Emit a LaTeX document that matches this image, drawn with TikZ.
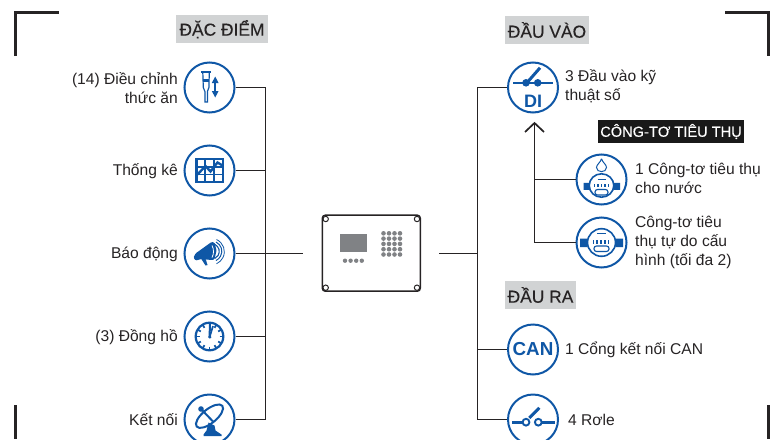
\documentclass[tikz,border=0pt]{standalone}
\usepackage{fontspec}
\setmainfont{Liberation Sans}
\newfontfamily\medfont[FakeBold=0.25]{Liberation Sans}
\definecolor{iblue}{HTML}{0F57A6}
\definecolor{ink}{HTML}{262324}
\definecolor{hdr}{HTML}{D1D3D4}
\definecolor{devg}{HTML}{808285}
\tikzset{
  ring/.style={circle,draw=iblue,line width=2pt,minimum size=50pt,inner sep=0pt,fill=white},
  lab/.style={text=ink,font=\fontsize{15.6}{19}\selectfont,inner sep=0pt},
  labl/.style={lab,anchor=east,align=right},
  labr/.style={lab,anchor=west,align=left},
  hd/.style={fill=hdr,text=ink,font=\medfont\fontsize{17.4}{19}\selectfont,inner sep=0pt,minimum height=28.5pt},
  wire/.style={draw=ink,line width=1pt},
  crop/.style={draw=ink,line width=3pt},
  ic/.style={draw=iblue,line width=1.6pt},
  icf/.style={fill=iblue,draw=none}
}
\begin{document}
\begin{tikzpicture}[x=1pt,y=-1pt]
\useasboundingbox (0,0) rectangle (776,439);
% crop marks
\draw[crop] (15.5,56) -- (15.5,12.5) -- (59,12.5);
\draw[crop] (725,12.5) -- (768.7,12.5) -- (768.7,56);
\draw[crop] (15.5,405) -- (15.5,439);
\draw[crop] (768.7,405) -- (768.7,439);
% coordinates
\coordinate (lbus) at (265.5,253.5);
\coordinate (rbus) at (477.5,253.5);
\coordinate (mbus) at (534.5,179.5);
% rings
\node[ring] (a1) at (209.5,87.5) {};
\node[ring] (a2) at (209.5,170.5) {};
\node[ring] (a3) at (209.5,253.5) {};
\node[ring] (a4) at (209.5,336.5) {};
\node[ring] (a5) at (209.5,419.5) {};
\node[ring] (b1) at (533,87.5) {};
\node[ring] (b2) at (533,349.5) {};
\node[ring] (b3) at (533,419.5) {};
\node[ring] (m1) at (601.5,179.5) {};
\node[ring] (m2) at (601.5,242.5) {};
% device
\node[draw=ink,line width=1.5pt,rounded corners=3pt,minimum width=98pt,minimum height=76pt,inner sep=0pt] (dev) at (371.3,253.2) {};
\foreach \cx/\cy in {325.7/219,417/219,325.7/287.7,417/287.7}
  \draw[ink,line width=1pt,fill=white] (\cx,\cy) circle (2.7);
\fill[devg] (340,234) rectangle (366.7,251.7);
\foreach \i in {0,...,3} \foreach \j in {0,...,4}
  \fill[devg] ({383.5+\i*5.5},{233.3+\j*5.3}) circle (2.3);
\foreach \i in {0,...,3}
  \fill[devg] ({345+\i*5.6},260.7) circle (2.2);
% wires
\draw[wire] (a1.east) -| (a5.east -| lbus) -- (a5.east);
\draw[wire] (a2.east) -- (a2.east -| lbus);
\draw[wire] (a3.east) -- (a3.east -| lbus);
\draw[wire] (a4.east) -- (a4.east -| lbus);
\draw[wire] (lbus) -- (303,253.5);
\draw[wire] (439,253.5) -- (rbus);
\draw[wire] (b1.west) -| (b3.west -| rbus) -- (b3.west);
\draw[wire] (b2.west) -- (b2.west -| rbus);
\draw[wire] (m1.west) -- (mbus);
\draw[wire] (m2.west) -| (mbus);
\draw[wire] (mbus) -- (534.5,124);
\draw[wire,line width=1.7pt] (525,132) -- (534.5,123) -- (544,132);
% headers
\node[hd,minimum width=92pt] (h1) at (222,29.2) {ĐẶC ĐIỂM};
\node[hd,minimum width=84pt] (h2) at (547,30) {ĐẦU VÀO};
\node[hd,minimum width=71pt] (h3) at (540.5,295) {ĐẦU RA};
\node[fill=black!90,text=white,font=\medfont\fontsize{14.6}{16}\selectfont,inner sep=0pt,minimum width=146pt,minimum height=23pt] (h4) at (671,131.5) {CÔNG-TƠ TIÊU THỤ};
% labels
\node[labl] (la1) at (178,88) {(14) Điều chỉnh\\thức ăn};
\node[labl] (la2) at (178,171.5) {Thống kê};
\node[labl] (la3) at (178,254.5) {Báo động};
\node[labl] (la4) at (178,337.5) {(3) Đồng hồ};
\node[labl] (la5) at (178,419.5) {Kết nối};
\node[labr] (lb1) at (565,86.5) {3 Đầu vào kỹ\\thuật số};
\node[labr] (lm1) at (635,178.5) {1 Công-tơ tiêu thụ\\cho nước};
\node[labr] (lm2) at (635,242) {Công-tơ tiêu\\thụ tự do cấu\\hình (tối đa 2)};
\node[labr] (lb2) at (565,350) {1 Cổng kết nối CAN};
\node[labr] (lb3) at (568,419.5) {4 Rơle};
% icon: DI
\begin{scope}[shift={(b1.center)}]
\draw[ic,line width=2.6pt] (-20,-4.7) -- (20,-4.7);
\fill[iblue] (-7,-4.7) circle (3.8) (4.7,-4.7) circle (3.8);
\draw[ic,line width=3pt] (-4.7,-6.3) -- (7,-19.7);
\node[text=iblue,font=\bfseries\fontsize{18}{18}\selectfont,inner sep=0pt] (di) at (0,13.5) {DI};
\end{scope}
% icon: CAN
\node[text=iblue,font=\bfseries\fontsize{18.8}{20}\selectfont,inner sep=0pt] (can) at (b2.center) {CAN};
% icon: relay
\begin{scope}[shift={(b3.center)}]
\draw[ic,line width=2.6pt] (-21,2.7) -- (-10,2.7) (9,2.7) -- (22,2.7);
\draw[ic,line width=1.9pt] (-7,2.7) circle (3.4) (5.3,2.7) circle (3.4);
\draw[ic,line width=3pt] (-3.7,-1.5) -- (6.3,-11.7);
\end{scope}
% icon: feed
\begin{scope}[shift={(a1.center)}]
\draw[ic,line width=1.9pt] (-8.5,-15.5) -- (1.5,-15.5);
\draw[ic,line width=1.2pt] (-6.7,-15) -- (-6.2,0) -- (-4.6,4) -- (-4.6,14.5) -- (-2.1,14.5) -- (-2.1,4) -- (-0.6,0) -- (-0.2,-15);
\fill[iblue] (-6.6,-8.5) rectangle (-0.4,-5.5);
\fill[iblue] (5.7,-11) -- (2.3,-4.5) -- (9.1,-4.5) -- cycle (5.7,10) -- (2.3,3.5) -- (9.1,3.5) -- cycle;
\draw[ic,line width=1.5pt] (5.7,-6) -- (5.7,5);
\end{scope}
% icon: stats
\begin{scope}[shift={(a2.center)}]
\draw[ic,line width=2.2pt] (-13,-11.3) rectangle (13.7,11.7);
\draw[ic,line width=1.7pt] (-13,-3.6) -- (13.7,-3.6) (-13,4) -- (13.7,4) (-4.2,-11.3) -- (-4.2,11.7) (4.7,-11.3) -- (4.7,11.7);
\draw[ic,line width=2.4pt] (-12,4) -- (-4,-4.5) -- (1,1) -- (8,-8) -- (13,-5);
\end{scope}
% icon: horn
\begin{scope}[shift={(a3.center)}]
\fill[iblue,rounded corners=1pt] (-16,4) -- (-14,0) -- (2,-11.5) -- (5,-11) -- (7,-3) -- (5,6) -- (2,6.5) -- (-8,5.5) -- (-14,7) -- cycle;
\fill[iblue] (-8.5,5) -- (-4,5) -- (-2,11.5) -- (-4,12) -- cycle;
\draw[white,line width=0.8pt] (2.5,-8) .. controls (4.5,-4) and (4.5,0) .. (2.5,4);
\draw[iblue,line width=1.1pt] (5.5,-9) arc (-60:60:8.5 and 8);
\draw[iblue,line width=1pt] (6.5,-11.5) arc (-62:62:11 and 10.5);
\draw[iblue,line width=0.8pt] (7,-14) arc (-64:64:14 and 13.5);
\end{scope}
% icon: clock
\begin{scope}[shift={(a4.center)}]
\draw[ic,line width=2.2pt] (0,0) circle (13.8);
\foreach \a in {0,30,...,330}
  \draw[iblue,line width=1.7pt] (\a:10) -- (\a:13.5);
\draw[ic,line width=2pt] (0,1) -- (0.5,-12.5);
\draw[ic,line width=1.7pt] (0,1) -- (3.5,-10.5);
\fill[iblue] (0.3,0.5) circle (1.7);
\end{scope}
% icon: dish
\begin{scope}[shift={(a5.center)}]
\draw[ic,line width=2pt,rotate around={39:(0,-3.3)}] (0,-3.3) ellipse (16.5 and 7);
\draw[ic,line width=2pt] (-8,-10) -- (3.5,2);
\fill[iblue] (-8.5,-10.5) circle (2.8);
\fill[iblue] (-1,3) -- (5,6) -- (6,11) -- (12,15) -- (12,16.5) -- (-6,16.5) -- (-6,15) -- (-3,11) -- cycle;
\end{scope}
% icon: meters
\begin{scope}[shift={(m1.center)}]
\fill[iblue] (-18,3.3) rectangle (-11.5,10.3) (12,3.3) rectangle (18.5,10.3);
\draw[ic,fill=white] (0,6) ellipse (12.3 and 11.7);
\draw[iblue,line width=1pt] (-4,0) -- (4,0);
\foreach \x in {-8,-4.5,-1,2.5,6} \fill[iblue] (\x,4) rectangle +(1.5,3.5);
\draw[ic,line width=1.1pt,rounded corners=2.5pt] (-6.5,10) rectangle (6.5,15.5);
\draw[ic,line width=1pt] (0,-20.7) .. controls (-1,-17) and (-5,-15) .. (-5,-12) .. controls (-5,-6.5) and (5,-6.5) .. (5,-12) .. controls (5,-15) and (1,-17) .. (0,-20.7);
\end{scope}
\begin{scope}[shift={(m2.center)}]
\fill[iblue] (-21.5,-4) rectangle (-14,4.7) (14,-4) rectangle (21.5,4.7);
\draw[ic,fill=white] (0,0) ellipse (14 and 13.8);
\draw[iblue,line width=1pt] (-4.5,-9) -- (4.5,-9);
\foreach \x in {-9,-5.2,-1.4,2.4,6.2} \fill[iblue] (\x,-3) rectangle +(1.6,4);
\draw[ic,line width=1.1pt,rounded corners=2.5pt] (-7.5,3.5) rectangle (7.5,9);
\end{scope}
\end{tikzpicture}
\end{document}
